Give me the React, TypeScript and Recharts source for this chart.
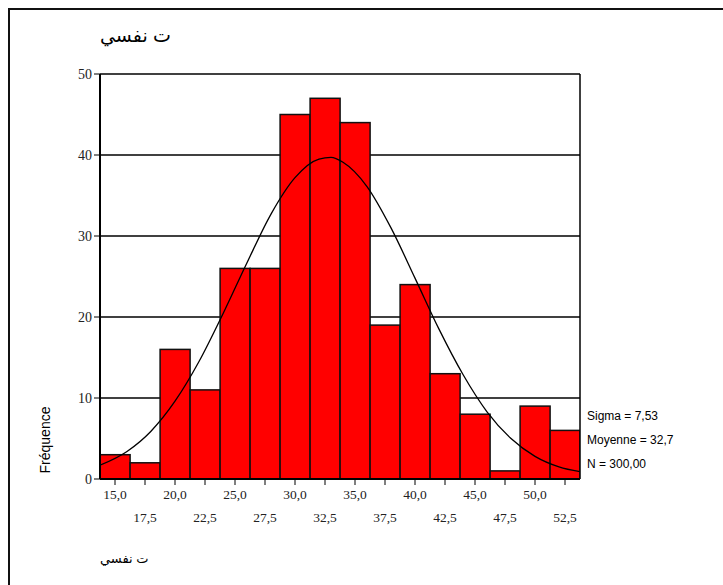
import {
  ComposedChart, Bar, Line, XAxis, YAxis, CartesianGrid, ReferenceLine,
} from 'recharts';

// bin midpoints (width 2.5) and counts
const binMids = [15, 17.5, 20, 22.5, 25, 27.5, 30, 32.5, 35, 37.5, 40, 42.5, 45, 47.5, 50, 52.5];
const counts = [3, 2, 16, 11, 26, 26, 45, 47, 44, 19, 24, 13, 8, 1, 9, 6];

// normal curve
const curveX = [13.75, 16, 18, 20, 22, 24, 26, 28, 30, 32, 33, 34, 36, 38, 40, 42, 44, 46, 48, 50, 52, 53.75];
const curveY = [1.7, 3.4, 5.9, 9.6, 14.5, 20.4, 26.7, 32.7, 37.2, 39.5, 39.7, 39.1, 36.1, 31.0, 24.8, 18.5, 12.9, 8.3, 5.0, 2.8, 1.5, 0.9];

const yTicks = [0, 10, 20, 30, 40, 50];
const statLines = ['Sigma = 7,53', 'Moyenne = 32,7', 'N = 300,00'];
const varLabel = 'ت نفسي';

const barData = binMids.map((x, i) => ({ x, count: counts[i] }));
const curveData = curveX.map((x, i) => ({ x, y: curveY[i] }));

const BIN_PX = 30;

const fmt = (v: number) => v.toFixed(1).replace('.', ',');

function XTick(props: any) {
  const { x, y, payload, index } = props;
  const row = index % 2 === 0 ? 0 : 23;
  return (
    <text x={x} y={y + 12 + row} textAnchor="middle" fontFamily="Liberation Serif" fontSize={13.5} fill="#222">
      {fmt(payload.value)}
    </text>
  );
}

// full-width histogram bar centred on the bin midpoint
function HistBar(props: any) {
  const { x, y, width, height } = props;
  const cx = x + width / 2;
  return (
    <rect x={cx - BIN_PX / 2} y={y} width={BIN_PX} height={height} fill="#ff0000" stroke="#111" strokeWidth={1.5} />
  );
}

export default function App() {
  return (
    <div style={{ position: 'absolute', left: 0, top: 0, width: 723, height: 585, background: '#fff', overflow: 'hidden' }}>
      <div style={{ position: 'absolute', left: 8, top: 8, width: 730, height: 590, borderTop: '2px solid #111', borderLeft: '2px solid #111' }} />
      <div style={{ position: 'absolute', left: 100, top: 24, fontFamily: 'Liberation Sans, DejaVu Sans', fontSize: 19, direction: 'rtl', color: '#000' }}>
        {varLabel}
      </div>
      <div style={{ position: 'absolute', left: 100, top: 551, fontFamily: 'Liberation Sans, DejaVu Sans', fontSize: 13, direction: 'rtl', color: '#000' }}>
        {varLabel}
      </div>
      <div style={{ position: 'absolute', left: 45, top: 440, transform: 'translate(-50%, -50%) rotate(-90deg)', fontFamily: 'Liberation Sans', fontSize: 14, color: '#000', whiteSpace: 'nowrap' }}>
        Fréquence
      </div>
      {statLines.map((s, i) => (
        <div key={s} style={{ position: 'absolute', left: 587, top: 409 + i * 24, fontFamily: 'Liberation Sans', fontSize: 12, color: '#000', whiteSpace: 'nowrap' }}>
          {s}
        </div>
      ))}
      <div style={{ position: 'absolute', left: 0, top: 0 }}>
        <ComposedChart width={723} height={585} data={barData} margin={{ top: 74, right: 143, left: 40, bottom: 56 }}>
          <CartesianGrid vertical={false} stroke="#000" strokeWidth={1.4} />
          <XAxis
            dataKey="x"
            type="number"
            domain={[13.75, 53.75]}
            ticks={binMids}
            interval={0}
            allowDataOverflow
            height={50}
            tick={<XTick />}
            tickSize={6}
            axisLine={{ stroke: '#000', strokeWidth: 2 }}
            tickLine={{ stroke: '#000' }}
          />
          <YAxis
            type="number"
            domain={[0, 50]}
            ticks={yTicks}
            width={60}
            tickSize={6}
            axisLine={{ stroke: '#000', strokeWidth: 2 }}
            tickLine={{ stroke: '#000' }}
            tick={{ fontFamily: 'Liberation Serif', fontSize: 14, fill: '#222' }}
          />
          <Bar dataKey="count" shape={<HistBar />} isAnimationActive={false} />
          <Line data={curveData} dataKey="y" type="monotone" stroke="#000" strokeWidth={1.3} dot={false} isAnimationActive={false} />
          <ReferenceLine x={53.75} stroke="#000" strokeWidth={1.5} />
        </ComposedChart>
      </div>
    </div>
  );
}
